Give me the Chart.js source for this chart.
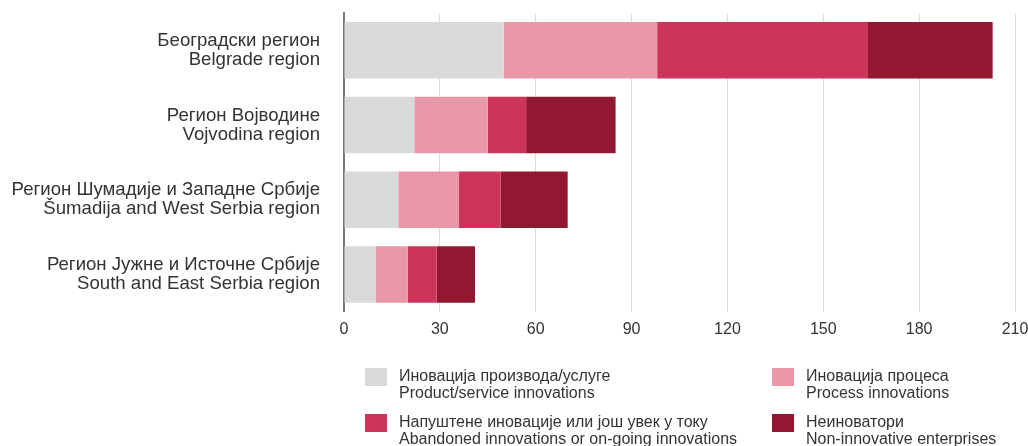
<!DOCTYPE html>
<html>
<head>
<meta charset="utf-8">
<script src="https://cdn.jsdelivr.net/npm/chart.js@4/dist/chart.umd.min.js"></script>
<style>
  html,body{margin:0;padding:0;background:#fff;}
  #wrap{position:relative;width:1028px;height:446px;}
  canvas{position:absolute;left:0;top:0;}
  .leg{position:absolute;font-family:"Liberation Sans",Arial,sans-serif;font-size:16px;color:#333;line-height:17px;}
  .leg .sw{position:absolute;left:0;top:1px;width:22px;height:18px;}
  .leg .tx{position:absolute;left:34px;top:0px;white-space:nowrap;}
</style>
</head>
<body>
<div id="wrap">
  <canvas id="c" width="1028" height="446"></canvas>
  <div id="legend"></div>
</div>
<script>
const categories = [
  ["Београдски регион", "Belgrade region"],
  ["Регион Војводине", "Vojvodina region"],
  ["Регион Шумадије и Западне Србије", "Šumadija and West Serbia region"],
  ["Регион Јужне и Источне Србије", "South and East Serbia region"]
];
const seriesLabels = [
  ["Иновација производа/услуге", "Product/service innovations"],
  ["Иновација процеса", "Process innovations"],
  ["Напуштене иновације или још увек у току", "Abandoned innovations or on-going innovations"],
  ["Неиноватори", "Non-innovative enterprises"]
];
const productService = [50, 22, 17, 10];
const processInnov = [48, 23, 19, 10];
const abandoned = [66, 12, 13, 9];
const nonInnovative = [39, 28, 21, 12];
const xTicks = [0, 30, 60, 90, 120, 150, 180, 210];

const colors = ["#d9d9d9", "#e898a9", "#cd3459", "#921730"];
const seriesValues = [productService, processInnov, abandoned, nonInnovative];

const datasets = seriesValues.map((v, i) => ({
  label: seriesLabels[i].join(" / "),
  data: v,
  backgroundColor: colors[i],
  borderWidth: 0,
  categoryPercentage: 1,
  barPercentage: 0.757
}));

const font = '"Liberation Sans", Arial, sans-serif';

new Chart(document.getElementById('c'), {
  type: 'bar',
  data: { labels: categories, datasets },
  options: {
    indexAxis: 'y',
    responsive: false,
    animation: false,
    layout: { padding: { top: 13, bottom: 99, left: 0, right: 0 } },
    plugins: { legend: { display: false }, tooltip: { enabled: false } },
    scales: {
      x: {
        stacked: true,
        min: 0, max: 210,
        afterBuildTicks: s => { s.ticks = xTicks.map(v => ({ value: v })); },
        afterFit: s => { s.paddingRight = 13; s.paddingLeft = 0; },
        grid: { color: '#dcdcdc', lineWidth: 1, drawTicks: false },
        border: { display: false },
        ticks: { padding: 8, color: '#333', font: { family: font, size: 16 } }
      },
      y: {
        stacked: true,
        afterFit: s => { s.width = 344; s.paddingTop = 0; s.paddingBottom = 0; },
        grid: { display: false, drawTicks: false },
        border: { display: true, color: '#777', width: 2 },
        ticks: { padding: 24, color: '#333', font: { family: font, size: 18.6, lineHeight: 1.02 } }
      }
    }
  }
});

// HTML legend built from series labels and colours
const legendPos = [[365, 367], [772, 367], [365, 413], [772, 413]];
const lg = document.getElementById('legend');
seriesLabels.forEach((lab, i) => {
  const d = document.createElement('div');
  d.className = 'leg';
  d.style.left = legendPos[i][0] + 'px';
  d.style.top = legendPos[i][1] + 'px';
  d.innerHTML = '<div class="sw" style="background:' + colors[i] + '"></div><div class="tx">' + lab[0] + '<br>' + lab[1] + '</div>';
  lg.appendChild(d);
});
</script>
</body>
</html>
